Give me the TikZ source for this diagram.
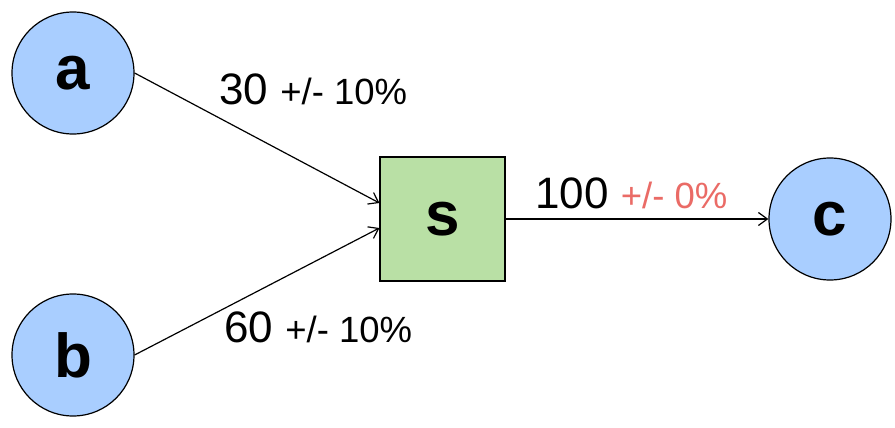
\documentclass[tikz,border=0pt]{standalone}
\usepackage{fontspec}
\setmainfont{Liberation Sans}
\usepackage{tikz}
\usetikzlibrary{positioning,arrows.meta}
\definecolor{nodeblue}{RGB}{169,206,255}
\definecolor{boxgreen}{RGB}{185,224,165}
\definecolor{tolred}{RGB}{234,107,102}
\newcommand{\bigval}{\fontsize{44}{50}\selectfont}
\newcommand{\tolval}{\fontsize{36.5}{42}\selectfont}
\tikzset{
endpoint/.style={circle,draw=black,line width=1.2pt,fill=nodeblue,minimum size=122pt,inner sep=0pt,font=\fontsize{62}{66}\selectfont\bfseries},
mixer/.style={rectangle,draw=black,line width=1.2pt,fill=boxgreen,minimum width=125pt,minimum height=124pt,inner sep=0pt,font=\fontsize{62}{66}\selectfont\bfseries},
flowlabel/.style={anchor=base west,inner sep=0pt},
flowarrow/.style={-{Straight Barb[length=9pt,width=13pt,line width=1.2pt]},line width=1.2pt,black}
}
\begin{document}
\begin{tikzpicture}[x=1pt,y=1pt]
\useasboundingbox (0,0) rectangle (895,-428);
\node[endpoint] (a) at (73,-73) {a};
\node[endpoint] (b) at (73,-355) {b};
\node[mixer] (s) at (442.5,-219) {s};
\node[endpoint] (c) at (830,-219) {c};
\draw[flowarrow] (a.east) -- ([yshift=16pt]s.west);
\draw[flowarrow] (b.east) -- ([yshift=-9pt]s.west);
\draw[flowarrow] (s.east) -- (c.west);
\node[flowlabel] (la) at (219,-104) {\bigval 30 \tolval+/- 10\%};
\node[flowlabel] (lb) at (224,-342) {\bigval 60 \tolval+/- 10\%};
\node[flowlabel] (lc) at (535,-208) {\bigval 100 \tolval\textcolor{tolred}{+/- 0\%}};
\end{tikzpicture}
\end{document}
